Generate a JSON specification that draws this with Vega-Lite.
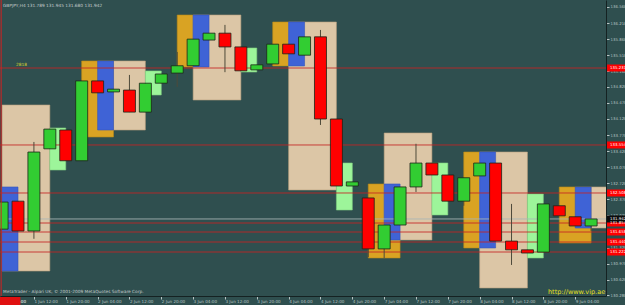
{
  "$schema": "https://vega.github.io/schema/vega-lite/v6.json",
  "width": 606,
  "height": 296,
  "autosize": "none",
  "padding": {"left": 0, "top": 0, "right": 19, "bottom": 9},
  "background": "#2f4f4f",
  "config": {"view": {"stroke": null}, "scale": {"continuousPadding": 0}},
  "datasets": {
    "boxes": [
      {"x1": 5, "x2": 7, "y1": 135.384, "y2": 133.728, "k": "gold"},
      {"x1": 11, "x2": 12, "y1": 136.386, "y2": 135.253, "k": "gold"},
      {"x1": 17, "x2": 18, "y1": 136.233, "y2": 135.275, "k": "gold"},
      {"x1": 23, "x2": 25, "y1": 132.704, "y2": 131.092, "k": "gold"},
      {"x1": 29, "x2": 30, "y1": 133.401, "y2": 131.310, "k": "gold"},
      {"x1": 35, "x2": 37, "y1": 132.639, "y2": 131.419, "k": "gold"},
      {"x1": 0, "x2": 3, "y1": 134.425, "y2": 130.808, "k": "wheat"},
      {"x1": 7, "x2": 9, "y1": 135.384, "y2": 133.880, "k": "wheat"},
      {"x1": 12, "x2": 15, "y1": 136.386, "y2": 134.534, "k": "wheat"},
      {"x1": 18, "x2": 21, "y1": 136.233, "y2": 132.573, "k": "wheat"},
      {"x1": 24, "x2": 27, "y1": 133.815, "y2": 131.484, "k": "wheat"},
      {"x1": 30, "x2": 33, "y1": 133.401, "y2": 130.438, "k": "wheat"},
      {"x1": 37, "x2": 40, "y1": 132.639, "y2": 131.745, "k": "wheat"},
      {"x1": 0, "x2": 1, "y1": 132.639, "y2": 130.808, "k": "blue"},
      {"x1": 6, "x2": 7, "y1": 135.384, "y2": 133.880, "k": "blue"},
      {"x1": 12, "x2": 13, "y1": 136.386, "y2": 135.253, "k": "blue"},
      {"x1": 18, "x2": 19, "y1": 136.233, "y2": 135.275, "k": "blue"},
      {"x1": 24, "x2": 25, "y1": 132.704, "y2": 131.484, "k": "blue"},
      {"x1": 30, "x2": 31, "y1": 133.401, "y2": 131.310, "k": "blue"},
      {"x1": 36, "x2": 37, "y1": 132.639, "y2": 131.745, "k": "blue"},
      {"x1": 3, "x2": 4, "y1": 133.924, "y2": 133.009, "k": "pale"},
      {"x1": 9, "x2": 10, "y1": 135.166, "y2": 134.643, "k": "pale"},
      {"x1": 15, "x2": 16, "y1": 135.667, "y2": 135.144, "k": "pale"},
      {"x1": 21, "x2": 22, "y1": 133.161, "y2": 132.137, "k": "pale"},
      {"x1": 27, "x2": 28, "y1": 133.161, "y2": 132.029, "k": "pale"},
      {"x1": 33, "x2": 34, "y1": 132.486, "y2": 131.092, "k": "pale"}
    ],
    "levels": [
      {"p": 135.231, "k": "red", "label": "135.231"},
      {"p": 133.554, "k": "red", "label": "133.554"},
      {"p": 132.508, "k": "red", "label": "132.508"},
      {"p": 131.854, "k": "red", "label": "131.854"},
      {"p": 131.658, "k": "red", "label": "131.658"},
      {"p": 131.440, "k": "red", "label": "131.440"},
      {"p": 131.222, "k": "red", "label": "131.222"},
      {"p": 131.942, "k": "bid", "label": "131.942"}
    ],
    "candles": [
      {"i": 0, "o": 131.72, "h": 132.31, "l": 131.72, "c": 132.31},
      {"i": 1, "o": 132.33, "h": 132.33, "l": 131.68, "c": 131.68},
      {"i": 2, "o": 131.68, "h": 133.62, "l": 131.51, "c": 133.40},
      {"i": 3, "o": 133.47, "h": 133.90, "l": 133.47, "c": 133.90},
      {"i": 4, "o": 133.88, "h": 133.88, "l": 133.21, "c": 133.21},
      {"i": 5, "o": 133.21, "h": 134.95, "l": 133.21, "c": 134.95},
      {"i": 6, "o": 134.95, "h": 134.95, "l": 134.69, "c": 134.69},
      {"i": 7, "o": 134.71, "h": 134.77, "l": 134.71, "c": 134.77},
      {"i": 8, "o": 134.75, "h": 135.08, "l": 134.27, "c": 134.27},
      {"i": 9, "o": 134.27, "h": 134.90, "l": 134.27, "c": 134.90},
      {"i": 10, "o": 134.90, "h": 135.10, "l": 134.90, "c": 135.10},
      {"i": 11, "o": 135.12, "h": 135.58, "l": 134.82, "c": 135.28},
      {"i": 12, "o": 135.28, "h": 135.86, "l": 135.28, "c": 135.86},
      {"i": 13, "o": 135.84, "h": 135.99, "l": 135.84, "c": 135.99},
      {"i": 14, "o": 135.99, "h": 136.17, "l": 135.14, "c": 135.69},
      {"i": 15, "o": 135.69, "h": 135.69, "l": 135.17, "c": 135.17},
      {"i": 16, "o": 135.19, "h": 135.30, "l": 135.19, "c": 135.30},
      {"i": 17, "o": 135.32, "h": 135.75, "l": 135.32, "c": 135.75},
      {"i": 18, "o": 135.75, "h": 135.75, "l": 135.54, "c": 135.54},
      {"i": 19, "o": 135.51, "h": 135.91, "l": 135.51, "c": 135.91},
      {"i": 20, "o": 135.91, "h": 136.06, "l": 133.99, "c": 134.12},
      {"i": 21, "o": 134.12, "h": 134.12, "l": 132.66, "c": 132.66},
      {"i": 22, "o": 132.66, "h": 132.75, "l": 132.66, "c": 132.75},
      {"i": 23, "o": 132.40, "h": 132.40, "l": 131.11, "c": 131.29},
      {"i": 24, "o": 131.29, "h": 131.81, "l": 131.09, "c": 131.81},
      {"i": 25, "o": 131.81, "h": 132.64, "l": 131.81, "c": 132.64},
      {"i": 26, "o": 132.64, "h": 133.58, "l": 132.53, "c": 133.16},
      {"i": 27, "o": 133.16, "h": 133.16, "l": 132.90, "c": 132.90},
      {"i": 28, "o": 132.90, "h": 132.90, "l": 132.33, "c": 132.33},
      {"i": 29, "o": 132.33, "h": 132.84, "l": 132.23, "c": 132.84},
      {"i": 30, "o": 132.88, "h": 133.16, "l": 132.88, "c": 133.16},
      {"i": 31, "o": 133.16, "h": 133.16, "l": 131.46, "c": 131.46},
      {"i": 32, "o": 131.46, "h": 132.27, "l": 130.94, "c": 131.27},
      {"i": 33, "o": 131.27, "h": 131.27, "l": 131.20, "c": 131.20},
      {"i": 34, "o": 131.22, "h": 132.27, "l": 131.22, "c": 132.27},
      {"i": 35, "o": 132.23, "h": 132.23, "l": 132.01, "c": 132.01},
      {"i": 36, "o": 131.99, "h": 131.99, "l": 131.79, "c": 131.79},
      {"i": 37, "o": 131.79, "h": 131.945, "l": 131.68, "c": 131.942}
    ]
  },
  "layer": [
    {
      "data": {"name": "boxes"},
      "mark": {"type": "rect", "strokeWidth": 0.6, "clip": true},
      "encoding": {
        "x": {"field": "x1", "type": "quantitative", "title": null,
          "scale": {"domain": [-0.1307, 37.935], "nice": false, "zero": false, "padding": 0},
          "axis": {
            "orient": "bottom", "values": [0, 2, 4, 6, 8, 10, 12, 14, 16, 18, 20, 22, 24, 26, 28, 30, 32, 34, 36],
            "tickCount": 60,
            "labelExpr": "['1 Jun 04:00','1 Jun 12:00','1 Jun 20:00','2 Jun 04:00','2 Jun 12:00','2 Jun 20:00','3 Jun 04:00','3 Jun 12:00','3 Jun 20:00','4 Jun 04:00','4 Jun 12:00','4 Jun 20:00','7 Jun 04:00','7 Jun 12:00','7 Jun 20:00','8 Jun 04:00','8 Jun 12:00','8 Jun 20:00','9 Jun 04:00'][datum.value/2]",
            "labelAlign": "left", "labelBaseline": "top", "labelPadding": 0, "labelFontSize": 4.1,
            "labelFont": "DejaVu Sans",
            "labelColor": {"condition": {"test": "datum.value == 0", "value": "#ffffff"}, "value": "#b8c4c4"},
            "tickColor": "#b8c4c4", "tickSize": 3, "domainColor": "#152222", "grid": false,
            "labelOverlap": false, "labelFlush": false, "zindex": 0
          }},
        "x2": {"field": "x2"},
        "y": {"field": "y1", "type": "quantitative", "title": null,
          "scale": {"domain": [130.2637, 136.7125], "nice": false, "zero": false, "padding": 0},
          "axis": {
            "orient": "right",
            "values": [136.56, 136.21, 135.86, 135.51, 135.16, 134.82, 134.47, 134.12, 133.77, 133.42, 133.07, 132.72, 132.37, 132.02, 131.67, 131.32, 130.97, 130.62, 130.28],
            "tickCount": 60,
            "format": ".3f", "labelAlign": "left", "labelBaseline": "middle", "labelPadding": 1,
            "labelFontSize": 3.9, "labelFont": "DejaVu Sans", "labelColor": "#b8c4c4",
            "tickColor": "#b8c4c4", "tickSize": 3, "domainColor": "#152222", "grid": false,
            "labelOverlap": false, "labelFlush": false, "zindex": 0
          }},
        "y2": {"field": "y2"},
        "color": {"condition": [
          {"test": "datum.k == 'gold'", "value": "#d9a323"},
          {"test": "datum.k == 'wheat'", "value": "#dcc6a6"},
          {"test": "datum.k == 'blue'", "value": "#3f63d6"}
        ], "value": "#9df59a"},
        "stroke": {"condition": [
          {"test": "datum.k == 'gold'", "value": "#b88a1a"},
          {"test": "datum.k == 'wheat'", "value": "#b8a07e"},
          {"test": "datum.k == 'blue'", "value": "#3555b8"}
        ], "value": "#80d080"}
      }
    },
    {
      "data": {"name": "levels"},
      "mark": {"type": "rule", "strokeWidth": 1, "opacity": 0.85},
      "encoding": {
        "y": {"field": "p", "type": "quantitative", "title": null,
          "scale": {"domain": [130.2637, 136.7125], "nice": false, "zero": false, "padding": 0}},
        "color": {"condition": {"test": "datum.k == 'red'", "value": "#c42424"}, "value": "#a9b6b6"}
      }
    },
    {
      "data": {"name": "candles"},
      "mark": {"type": "rule", "strokeWidth": 1, "color": "#4e4a3a"},
      "encoding": {
        "x": {"field": "i", "type": "quantitative", "title": null,
          "scale": {"domain": [-0.1307, 37.935], "nice": false, "zero": false, "padding": 0}},
        "y": {"field": "l", "type": "quantitative", "title": null,
          "scale": {"domain": [130.2637, 136.7125], "nice": false, "zero": false, "padding": 0}},
        "y2": {"field": "h"}
      }
    },
    {
      "data": {"name": "candles"},
      "mark": {"type": "bar", "width": 12, "stroke": "#1c2418", "strokeWidth": 0.8},
      "encoding": {
        "x": {"field": "i", "type": "quantitative", "title": null,
          "scale": {"domain": [-0.1307, 37.935], "nice": false, "zero": false, "padding": 0}},
        "y": {"field": "o", "type": "quantitative", "title": null,
          "scale": {"domain": [130.2637, 136.7125], "nice": false, "zero": false, "padding": 0}},
        "y2": {"field": "c"},
        "color": {"condition": {"test": "datum.c > datum.o", "value": "#32cd32"}, "value": "#ff0000"}
      }
    },
    {
      "data": {"name": "levels"},
      "mark": {"type": "bar", "height": 7},
      "encoding": {
        "x": {"datum": 38.0, "type": "quantitative", "title": null, "scale": {"domain": [-0.1307, 37.935], "nice": false, "zero": false, "padding": 0}},
        "x2": {"datum": 39.4},
        "y": {"field": "p", "type": "quantitative", "title": null,
          "scale": {"domain": [130.2637, 136.7125], "nice": false, "zero": false, "padding": 0}},
        "color": {"condition": {"test": "datum.k == 'red'", "value": "#ff0000"}, "value": "#0c0c0c"}
      }
    },
    {
      "data": {"name": "levels"},
      "mark": {"type": "text", "align": "left", "baseline": "middle", "fontSize": 3.9, "font": "DejaVu Sans", "color": "#ffffff", "dx": 3},
      "encoding": {
        "x": {"datum": 38.0, "type": "quantitative", "title": null, "scale": {"domain": [-0.1307, 37.935], "nice": false, "zero": false, "padding": 0}},
        "y": {"field": "p", "type": "quantitative", "title": null,
          "scale": {"domain": [130.2637, 136.7125], "nice": false, "zero": false, "padding": 0}},
        "text": {"field": "label"}
      }
    },
    {
      "data": {"values": [{}]},
      "mark": {"type": "rule", "color": "#d42020", "strokeWidth": 1},
      "encoding": {
        "x": {"datum": -0.06, "type": "quantitative", "title": null, "scale": {"domain": [-0.1307, 37.935], "nice": false, "zero": false, "padding": 0}}
      }
    },
    {
      "data": {"values": [{}]},
      "mark": {"type": "bar", "height": 8, "color": "#e01010"},
      "encoding": {
        "x": {"datum": -0.1307, "type": "quantitative", "title": null, "scale": {"domain": [-0.1307, 37.935], "nice": false, "zero": false, "padding": 0}},
        "x2": {"datum": 1.15},
        "y": {"datum": 130.155, "type": "quantitative", "title": null, "scale": {"domain": [130.2637, 136.7125], "nice": false, "zero": false, "padding": 0}}
      }
    },
    {
      "data": {"values": [
        {"t": "GBPJPY,H4  131.789 131.945 131.680 131.942", "x": 0.06, "y": 136.582, "k": "info"},
        {"t": "MetaTrader - Alpari UK, © 2001-2009 MetaQuotes Software Corp.", "x": 0.06, "y": 130.351, "k": "info"},
        {"t": "2818", "x": 0.87, "y": 135.30, "k": "lvl"}
      ]},
      "mark": {"type": "text", "align": "left", "baseline": "middle", "fontSize": 4.3, "font": "DejaVu Sans"},
      "encoding": {
        "x": {"field": "x", "type": "quantitative", "title": null, "scale": {"domain": [-0.1307, 37.935], "nice": false, "zero": false, "padding": 0}},
        "y": {"field": "y", "type": "quantitative", "title": null, "scale": {"domain": [130.2637, 136.7125], "nice": false, "zero": false, "padding": 0}},
        "text": {"field": "t"},
        "color": {"condition": {"test": "datum.k == 'info'", "value": "#c4cccc"}, "value": "#d8d830"}
      }
    },
    {
      "data": {"values": [{"t": "http://www.vip.ae"}]},
      "mark": {"type": "text", "align": "left", "baseline": "middle", "fontSize": 6.5, "font": "DejaVu Sans", "color": "#e6e020"},
      "encoding": {
        "x": {"datum": 34.29, "type": "quantitative", "title": null, "scale": {"domain": [-0.1307, 37.935], "nice": false, "zero": false, "padding": 0}},
        "y": {"datum": 130.351, "type": "quantitative", "title": null, "scale": {"domain": [130.2637, 136.7125], "nice": false, "zero": false, "padding": 0}},
        "text": {"field": "t"}
      }
    }
  ]
}
